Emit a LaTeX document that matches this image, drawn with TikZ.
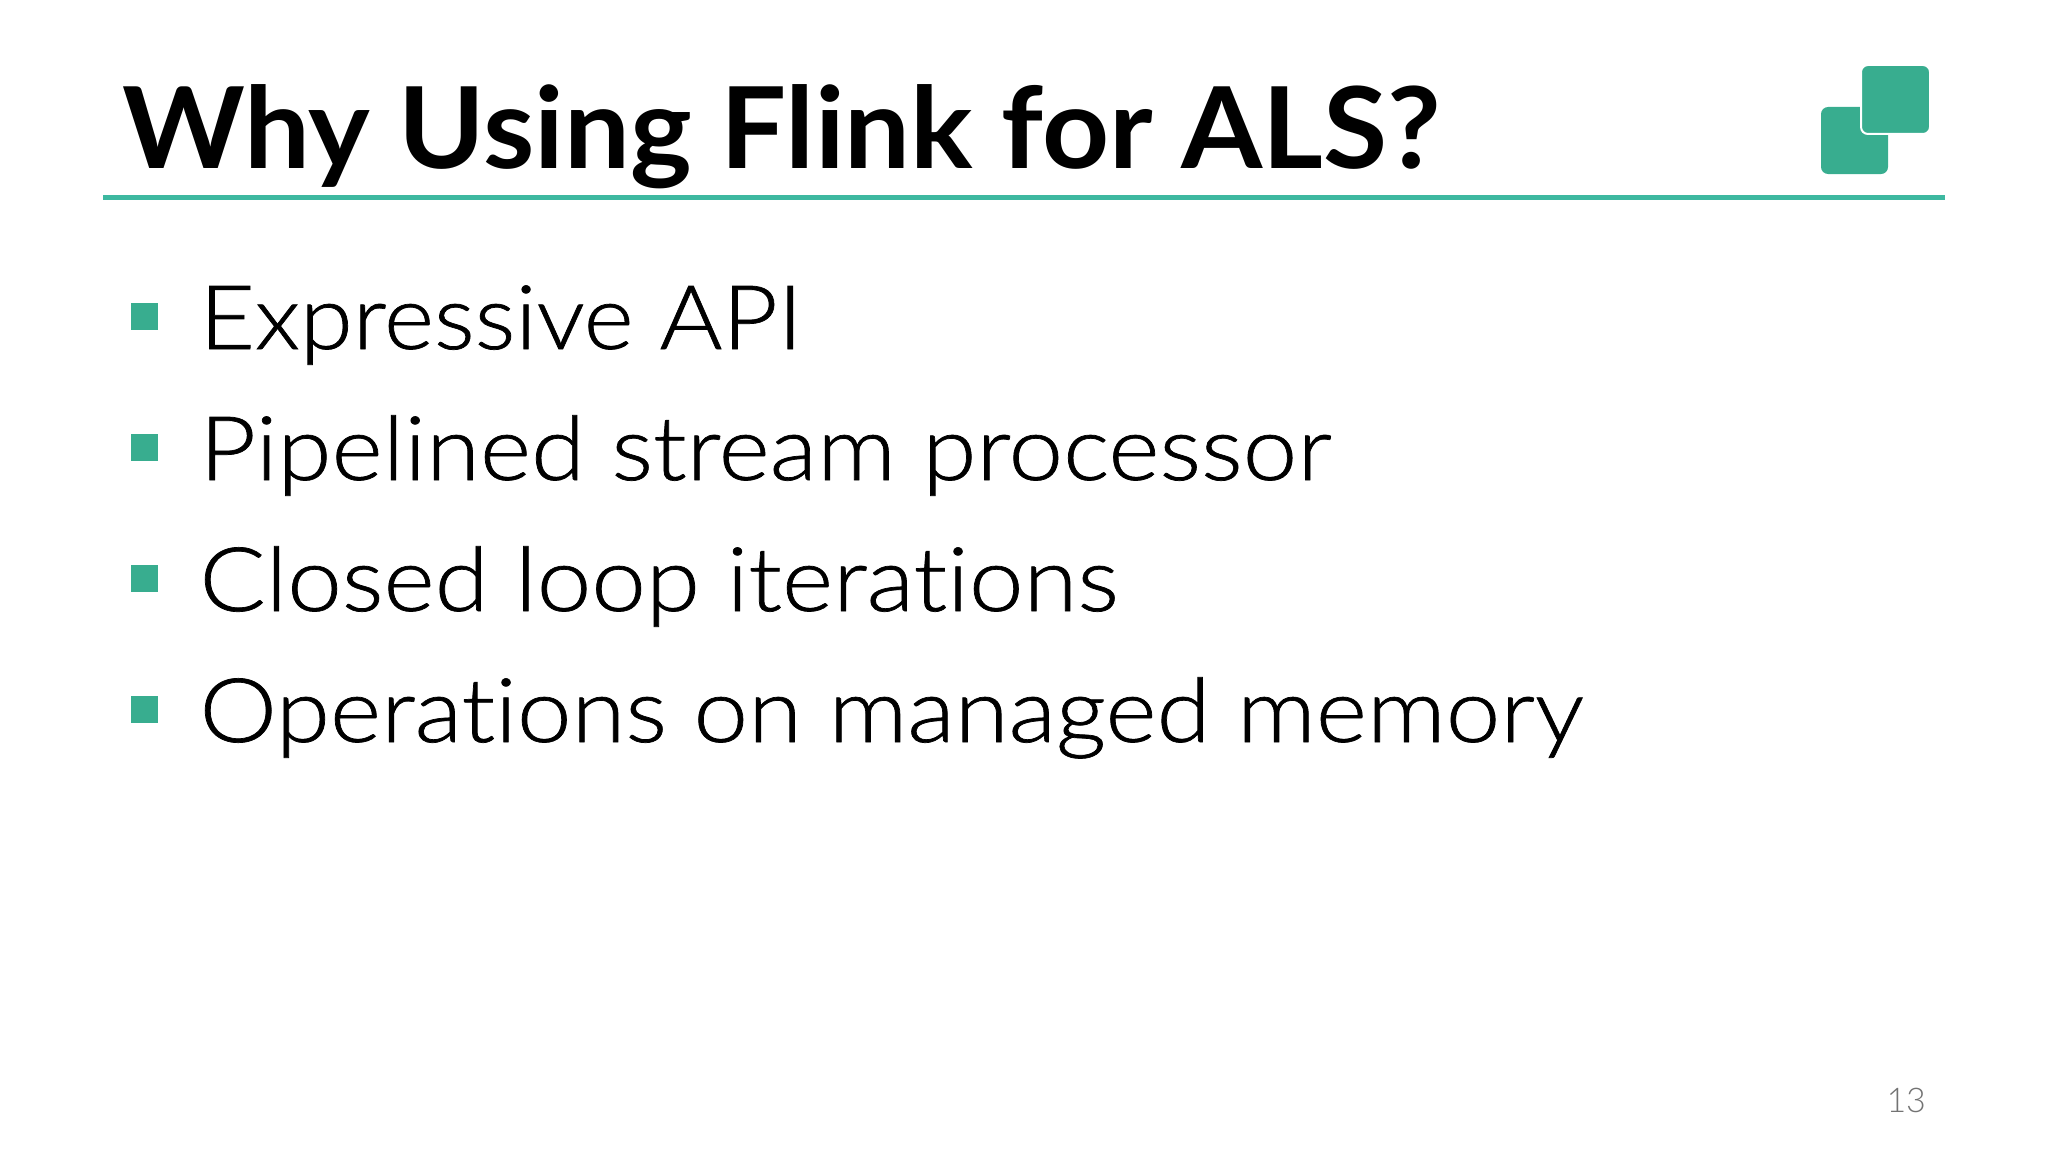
\documentclass[tikz,border=0pt]{standalone}
\usepackage{fontspec}
\setmainfont{Lato}[UprightFont=* Light,BoldFont=* Bold,Ligatures=NoCommon,
  UprightFeatures={FakeStretch=1.10,FakeBold=0.8},BoldFeatures={FakeStretch=1.035}]
\newfontfamily\itemtight{Lato}[UprightFont=* Light,FakeStretch=1.076,FakeBold=0.8]
\newfontfamily\pagefont{Lato}[UprightFont=* Light]
\definecolor{flinkgreen}{HTML}{38AD8F}
\definecolor{rulegreen}{HTML}{3DB8A0}
\begin{document}
\begin{tikzpicture}[
  x = 1pt, y = -1pt,
  every node/.style = {inner sep = 0pt, outer sep = 0pt},
  title/.style = {anchor = base west, font = \fontsize{113}{113}\selectfont\bfseries, text = black},
  item/.style = {anchor = base west, font = \fontsize{89}{89}\selectfont, text = black},
  bullet/.style = {fill = flinkgreen, minimum size = 27pt, anchor = center},
  logo/.style = {fill = flinkgreen, rounded corners = 7pt},
  ]

  \useasboundingbox (0, 0) rectangle (2048, 1153);

  \node [title] (head) at (122.5, 168) {Why Using Flink for ALS?};
  \fill [rulegreen] (103, 194.5) rectangle (1945, 200);

  % logo
  \fill [logo] (1821, 107) rectangle (1888, 174);
  \fill [logo, draw = white, line width = 2pt] (1861, 65) rectangle (1930, 134);

  \node [bullet] (b1) at (144, 316) {};
  \node [bullet] (b2) at (144, 447) {};
  \node [bullet] (b3) at (144, 578) {};
  \node [bullet] (b4) at (144, 709) {};

  \node [item, font = \fontsize{89}{89}\selectfont\itemtight] (t1) at (199.5, 349) {Expressive API};
  \node [item] (t2) at (199.5, 480) {Pipelined stream processor};
  \node [item] (t3) at (199.5, 611) {Closed loop iterations};
  \node [item] (t4) at (199.5, 742) {Operations on managed memory};

  \node [anchor = base west, font = \fontsize{34}{34}\selectfont\pagefont, text = black!55] (page) at (1886.5, 1112) {13};
\end{tikzpicture}
\end{document}
